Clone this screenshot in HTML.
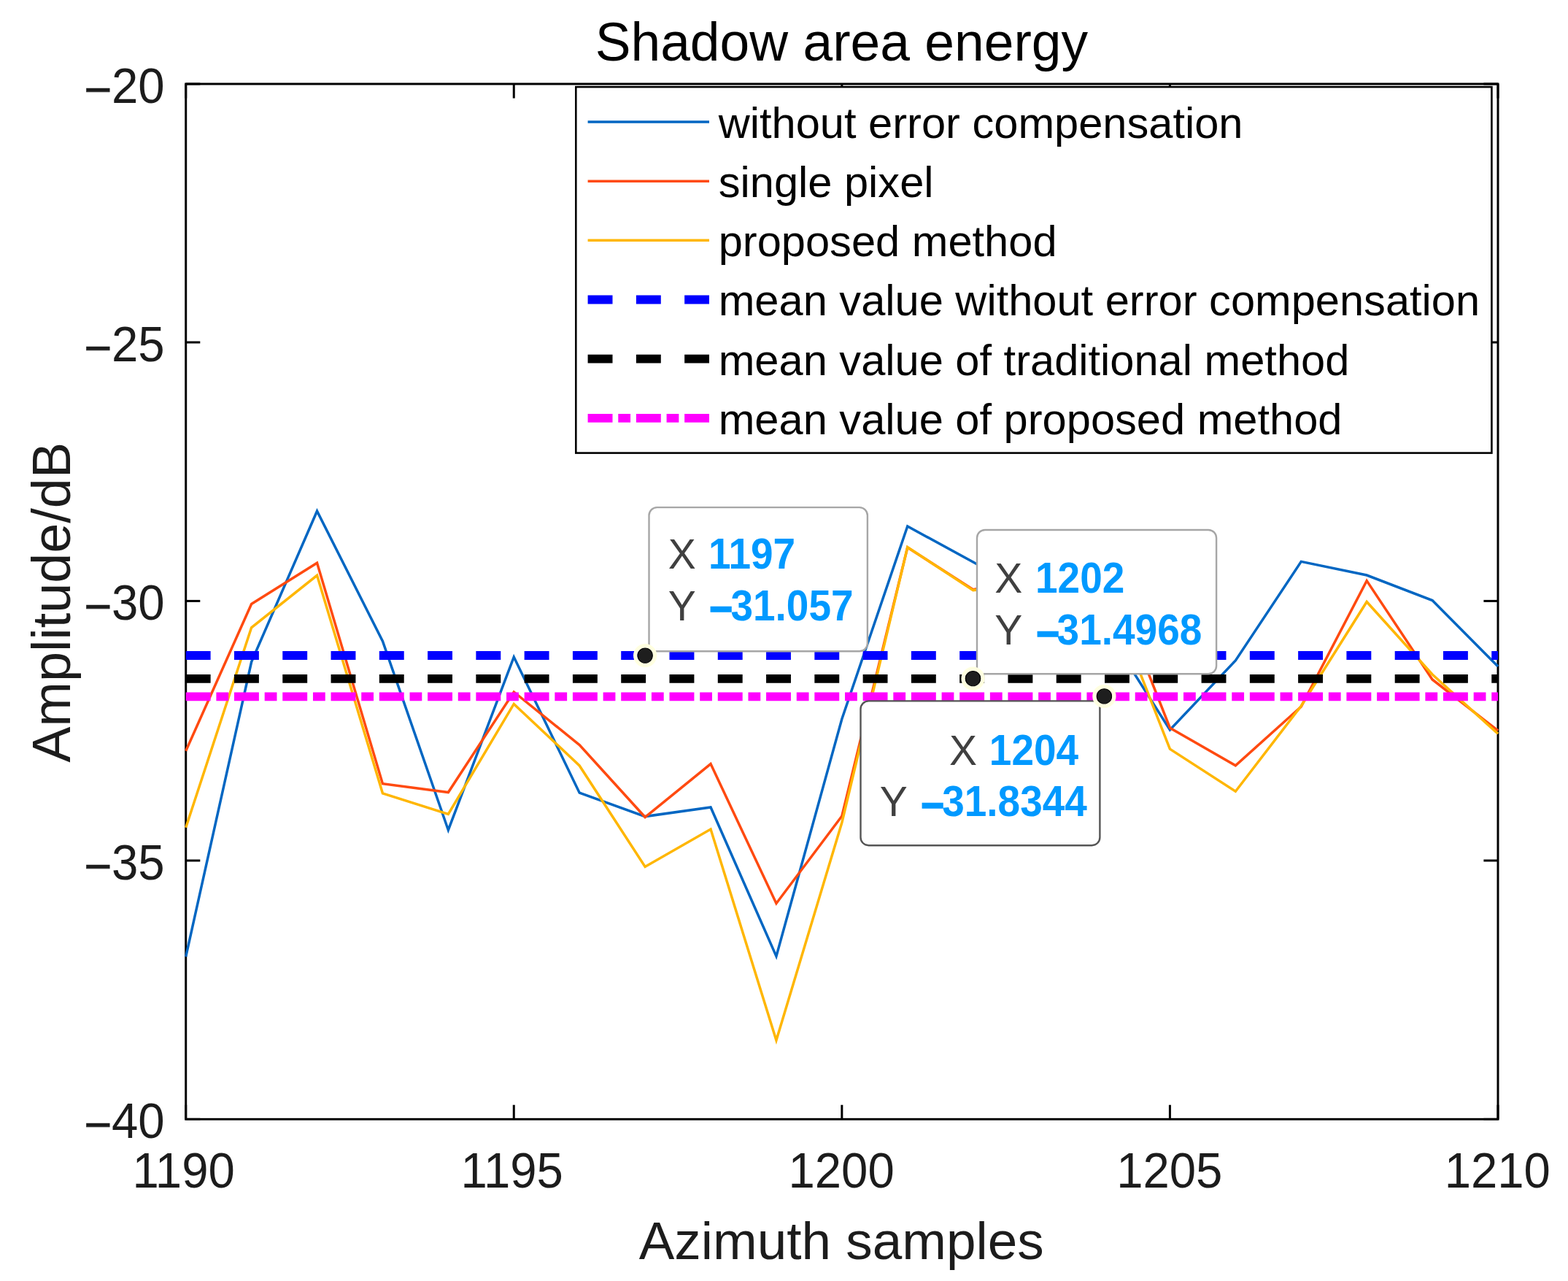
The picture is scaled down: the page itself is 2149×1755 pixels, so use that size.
<!DOCTYPE html><html><head><meta charset="utf-8"><title>Shadow area energy</title>
<style>html,body{margin:0;padding:0;background:#fff;overflow:hidden}svg{display:block}</style></head><body>
<svg width="2149" height="1755" viewBox="0 0 2149 1755" font-family="'Liberation Sans', Arial, Helvetica, sans-serif">
<rect x="0" y="0" width="2149" height="1755" fill="#fff"/>
<g stroke="#000" stroke-width="3.0" fill="none">
<rect x="254.70" y="115.00" width="1798.30" height="1418.35"/>
<line x1="254.70" y1="1533.35" x2="254.70" y2="1513.75"/>
<line x1="254.70" y1="115.00" x2="254.70" y2="134.60"/>
<line x1="704.27" y1="1533.35" x2="704.27" y2="1513.75"/>
<line x1="704.27" y1="115.00" x2="704.27" y2="134.60"/>
<line x1="1153.85" y1="1533.35" x2="1153.85" y2="1513.75"/>
<line x1="1153.85" y1="115.00" x2="1153.85" y2="134.60"/>
<line x1="1603.42" y1="1533.35" x2="1603.42" y2="1513.75"/>
<line x1="1603.42" y1="115.00" x2="1603.42" y2="134.60"/>
<line x1="2053.00" y1="1533.35" x2="2053.00" y2="1513.75"/>
<line x1="2053.00" y1="115.00" x2="2053.00" y2="134.60"/>
<line x1="254.70" y1="115.00" x2="274.30" y2="115.00"/>
<line x1="2053.00" y1="115.00" x2="2033.40" y2="115.00"/>
<line x1="254.70" y1="469.00" x2="274.30" y2="469.00"/>
<line x1="2053.00" y1="469.00" x2="2033.40" y2="469.00"/>
<line x1="254.70" y1="823.40" x2="274.30" y2="823.40"/>
<line x1="2053.00" y1="823.40" x2="2033.40" y2="823.40"/>
<line x1="254.70" y1="1179.00" x2="274.30" y2="1179.00"/>
<line x1="2053.00" y1="1179.00" x2="2033.40" y2="1179.00"/>
<line x1="254.70" y1="1533.35" x2="274.30" y2="1533.35"/>
<line x1="2053.00" y1="1533.35" x2="2033.40" y2="1533.35"/>
</g>
<g fill="none" stroke-linejoin="miter" stroke-miterlimit="10">
<polyline points="254.70,1310.60 344.62,906.80 434.53,700.20 524.44,878.40 614.36,1137.20 704.27,900.10 794.19,1086.20 884.11,1118.60 974.02,1106.00 1063.93,1310.10 1153.85,985.00 1243.76,721.00 1333.68,770.00 1423.60,820.00 1513.51,858.00 1603.42,1000.00 1693.34,904.90 1783.25,769.40 1873.17,788.00 1963.08,822.60 2053.00,913.10" stroke="#0066C2" stroke-width="3.50"/>
<polyline points="254.70,1028.80 344.62,827.50 434.53,771.30 524.44,1073.70 614.36,1085.50 704.27,948.00 794.19,1020.60 884.11,1119.50 974.02,1046.60 1063.93,1237.70 1153.85,1118.00 1243.76,750.00 1333.68,807.60 1423.60,790.00 1513.51,769.00 1603.42,997.20 1693.34,1048.80 1783.25,968.10 1873.17,795.60 1963.08,931.00 2053.00,1001.00" stroke="#FF4A10" stroke-width="3.50"/>
<polyline points="254.70,1133.80 344.62,859.80 434.53,788.30 524.44,1086.80 614.36,1115.50 704.27,964.40 794.19,1049.00 884.11,1187.50 974.02,1136.00 1063.93,1425.30 1153.85,1127.00 1243.76,749.70 1333.68,808.60 1423.60,800.00 1513.51,797.00 1603.42,1026.20 1693.34,1084.20 1783.25,967.20 1873.17,824.50 1963.08,924.00 2053.00,1005.30" stroke="#FFB600" stroke-width="3.50"/>
<line x1="254.70" y1="898.00" x2="2053.00" y2="898.00" stroke="#0000FF" stroke-width="11.8" stroke-dasharray="33.9 32.38"/>
<line x1="254.70" y1="929.90" x2="2053.00" y2="929.90" stroke="#000000" stroke-width="11.8" stroke-dasharray="33.9 32.38"/>
<line x1="254.70" y1="954.35" x2="2053.00" y2="954.35" stroke="#FF00FF" stroke-width="11.8" stroke-dasharray="33.9 7.8 16.78 7.8"/>
</g>
<text transform="translate(251.60,1627.40) scale(1,1.050)" font-size="65.30" fill="#1c1c1c" text-anchor="middle">1190</text>
<text transform="translate(701.62,1627.40) scale(1,1.050)" font-size="65.30" fill="#1c1c1c" text-anchor="middle">1195</text>
<text transform="translate(1153.10,1627.40) scale(1,1.050)" font-size="65.30" fill="#1c1c1c" text-anchor="middle">1200</text>
<text transform="translate(1602.77,1627.40) scale(1,1.050)" font-size="65.30" fill="#1c1c1c" text-anchor="middle">1205</text>
<text transform="translate(2052.25,1627.40) scale(1,1.050)" font-size="65.30" fill="#1c1c1c" text-anchor="middle">1210</text>
<text transform="translate(114.90,140.50) scale(1,1.050)" font-size="65.30" fill="#1c1c1c"><tspan dy="5.14" stroke="#1c1c1c" stroke-width="0.55">&#8722;</tspan><tspan dx="-0.07" dy="-5.14">20</tspan></text>
<text transform="translate(114.90,494.50) scale(1,1.050)" font-size="65.30" fill="#1c1c1c"><tspan dy="5.14" stroke="#1c1c1c" stroke-width="0.55">&#8722;</tspan><tspan dx="-0.07" dy="-5.14">25</tspan></text>
<text transform="translate(114.90,848.90) scale(1,1.050)" font-size="65.30" fill="#1c1c1c"><tspan dy="5.14" stroke="#1c1c1c" stroke-width="0.55">&#8722;</tspan><tspan dx="-0.07" dy="-5.14">30</tspan></text>
<text transform="translate(114.90,1204.50) scale(1,1.050)" font-size="65.30" fill="#1c1c1c"><tspan dy="5.14" stroke="#1c1c1c" stroke-width="0.55">&#8722;</tspan><tspan dx="-0.07" dy="-5.14">35</tspan></text>
<text transform="translate(114.90,1558.85) scale(1,1.050)" font-size="65.30" fill="#1c1c1c"><tspan dy="5.14" stroke="#1c1c1c" stroke-width="0.55">&#8722;</tspan><tspan dx="-0.07" dy="-5.14">40</tspan></text>
<text transform="translate(1153.35,82.70) scale(1,1.000)" font-size="73.20" fill="#000" text-anchor="middle">Shadow area energy</text>
<text transform="translate(1153.15,1725.20) scale(1,1.000)" font-size="72.90" fill="#1c1c1c" text-anchor="middle">Azimuth samples</text>
<text transform="translate(96.2,825.35) rotate(-90)" font-size="73.8" text-anchor="middle" fill="#1c1c1c">Amplitude/dB</text>
<rect x="789.30" y="119.10" width="1255.10" height="501.50" fill="#fff" stroke="#000" stroke-width="2.6"/>
<line x1="805.60" y1="167.00" x2="972.00" y2="167.00" stroke="#0066C2" stroke-width="3.50"/>
<text transform="translate(984.70,189.00) scale(1,1.000)" font-size="59.60" fill="#000">without error compensation</text>
<line x1="805.60" y1="248.16" x2="972.00" y2="248.16" stroke="#FF4A10" stroke-width="3.50"/>
<text transform="translate(984.70,270.16) scale(1,1.000)" font-size="59.60" fill="#000">single pixel</text>
<line x1="805.60" y1="329.32" x2="972.00" y2="329.32" stroke="#FFB600" stroke-width="3.50"/>
<text transform="translate(984.70,351.32) scale(1,1.000)" font-size="59.60" fill="#000">proposed method</text>
<line x1="805.60" y1="410.48" x2="972.00" y2="410.48" stroke="#0000FF" stroke-width="11.8" stroke-dasharray="33.9 32.38"/>
<text transform="translate(984.70,432.48) scale(1,1.000)" font-size="59.60" fill="#000">mean value without error compensation</text>
<line x1="805.60" y1="491.64" x2="972.00" y2="491.64" stroke="#000000" stroke-width="11.8" stroke-dasharray="33.9 32.38"/>
<text transform="translate(984.70,513.64) scale(1,1.000)" font-size="59.60" fill="#000">mean value of traditional method</text>
<line x1="805.60" y1="572.80" x2="972.00" y2="572.80" stroke="#FF00FF" stroke-width="11.8" stroke-dasharray="33.9 7.8 16.78 7.8"/>
<text transform="translate(984.70,594.80) scale(1,1.000)" font-size="59.60" fill="#000">mean value of proposed method</text>
<path d="M900.50,695.10 H1177.90 A11.00,11.00 0 0 1 1188.90,706.10 V881.30 A11.00,11.00 0 0 1 1177.90,892.30 H889.50 V706.10 A11.00,11.00 0 0 1 900.50,695.10 Z" fill="#fff" stroke="#A6A6A6" stroke-width="2.4"/><text transform="translate(915.70,779.00) scale(1,1.000)" font-size="57.00" fill="#404040">X</text><text transform="translate(970.90,779.00) scale(1,1.065)" font-size="55.00" fill="#0099FF" font-weight="bold">1197</text><text transform="translate(915.70,849.60) scale(1,1.000)" font-size="57.00" fill="#404040">Y</text><text transform="translate(971.90,849.60) scale(1,1.065)" font-size="55.00" fill="#0099FF" font-weight="bold"><tspan dy="4.51" stroke="#0099FF" stroke-width="1.6">&#8722;</tspan><tspan dx="-2.62" dy="-4.51">31.057</tspan></text>
<circle cx="884.15" cy="898.10" r="13.4" fill="none" stroke="#FFFFE0" stroke-width="5.5"/><circle cx="884.15" cy="898.10" r="10.15" fill="#1e1e1e" stroke="#000" stroke-width="1.1"/>
<path d="M1190.50,960.40 H1507.40 V1147.20 A11.00,11.00 0 0 1 1496.40,1158.20 H1190.50 A11.00,11.00 0 0 1 1179.50,1147.20 V971.40 A11.00,11.00 0 0 1 1190.50,960.40 Z" fill="#fff" stroke="#555555" stroke-width="2.4"/><text transform="translate(1300.90,1047.90) scale(1,1.000)" font-size="57.00" fill="#404040">X</text><text transform="translate(1355.80,1047.90) scale(1,1.065)" font-size="55.00" fill="#0099FF" font-weight="bold">1204</text><text transform="translate(1205.70,1118.30) scale(1,1.000)" font-size="57.00" fill="#404040">Y</text><text transform="translate(1261.90,1118.30) scale(1,1.065)" font-size="55.00" fill="#0099FF" font-weight="bold"><tspan dy="4.51" stroke="#0099FF" stroke-width="1.6">&#8722;</tspan><tspan dx="-2.82" dy="-4.51">31.8344</tspan></text>
<circle cx="1513.40" cy="953.90" r="13.4" fill="none" stroke="#FFFFE0" stroke-width="5.5"/><circle cx="1513.40" cy="953.90" r="10.15" fill="#1e1e1e" stroke="#000" stroke-width="1.1"/>
<path d="M1350.00,726.00 H1656.10 A11.00,11.00 0 0 1 1667.10,737.00 V912.30 A11.00,11.00 0 0 1 1656.10,923.30 H1339.00 V737.00 A11.00,11.00 0 0 1 1350.00,726.00 Z" fill="#fff" stroke="#A6A6A6" stroke-width="2.4"/><text transform="translate(1363.20,812.20) scale(1,1.000)" font-size="57.00" fill="#404040">X</text><text transform="translate(1419.00,812.20) scale(1,1.065)" font-size="55.00" fill="#0099FF" font-weight="bold">1202</text><text transform="translate(1363.20,883.00) scale(1,1.000)" font-size="57.00" fill="#404040">Y</text><text transform="translate(1420.00,883.00) scale(1,1.065)" font-size="55.00" fill="#0099FF" font-weight="bold"><tspan dy="4.51" stroke="#0099FF" stroke-width="1.6">&#8722;</tspan><tspan dx="-3.52" dy="-4.51">31.4968</tspan></text>
<circle cx="1333.50" cy="929.60" r="13.4" fill="none" stroke="#FFFFE0" stroke-width="5.5"/><circle cx="1333.50" cy="929.60" r="10.15" fill="#1e1e1e" stroke="#000" stroke-width="1.1"/>
</svg></body></html>
